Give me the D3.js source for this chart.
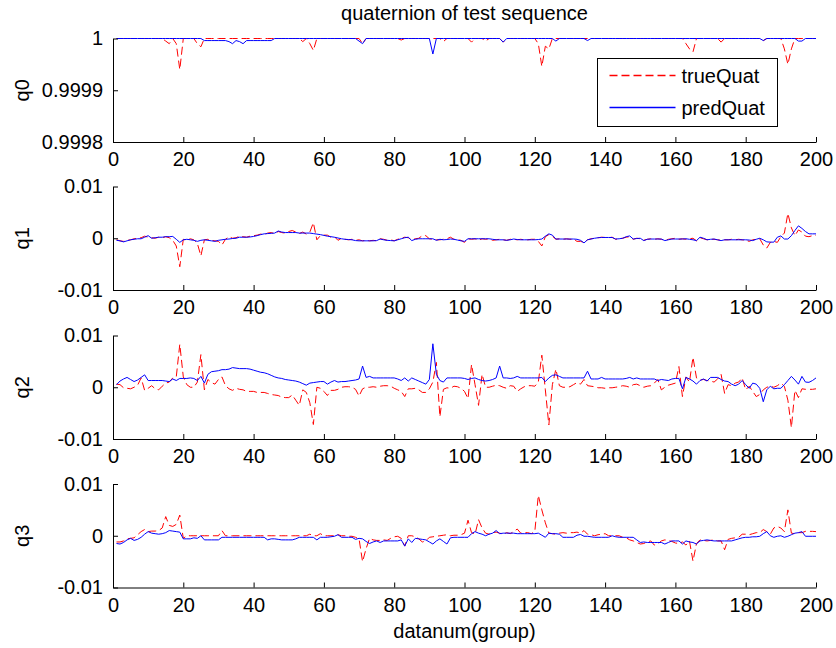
<!DOCTYPE html>
<html>
<head>
<meta charset="utf-8">
<script src="https://cdn.jsdelivr.net/npm/d3@7"></script>
<style>
  body { margin: 0; background: #ffffff; }
  svg { display: block; }
  text { font-family: "Liberation Sans", Arial, Helvetica, sans-serif; fill: #000; }
</style>
</head>
<body>
<svg id="chart" width="836" height="648"></svg>
<script>
// ---------------- DATA ----------------
const datanum = d3.range(1, 201);            // sample index 1..200
const xTickValues = [0, 20, 40, 60, 80, 100, 120, 140, 160, 180, 200];
const q0TickValues = [0.9998, 0.9999, 1];
const q0TickLabels = ["0.9998", "0.9999", "1"];
const qTickValues = [-0.01, 0, 0.01];
const qTickLabels = ["-0.01", "0", "0.01"];
const panelLabels = ["q0", "q1", "q2", "q3"];
const seriesNames = ["trueQuat", "predQuat"];

const q0True = [
 1,1,1,1,1,1,1,1,1,1,
 1,1,1,1,0.999995,0.99999,1,0.99999,0.99994,1,
 1,1,1,0.99999,0.999984,1,1,1,1,1,
 1,1,1,1,1,1,1,1,1,1,
 1,1,1,1,1,1,1,1,1,1,
 1,1,1,0.999994,1,0.99999,0.999977,1,1,1,
 1,1,1,1,1,1,1,1,1,1,
 0.99999,1,1,1,1,1,1,1,1,1,
 1,0.999997,1,1,1,1,1,1,1,1,
 1,1,1,0.999994,1,1,1,1,1,1,
 1,0.999993,1,1,1,0.999995,1,1,1,1,
 0.999993,1,1,1,1,1,1,1,1,1,
 0.99999,0.999946,0.999985,0.99998,1,1,1,1,1,1,
 1,1,1,1,1,1,1,1,1,1,
 1,1,1,1,1,1,1,1,1,1,
 1,1,1,1,1,1,1,1,1,1,
 1,1,0.99999,0.99998,0.999974,1,1,1,1,1,
 1,1,0.999993,1,1,1,1,1,1,1,
 1,1,1,1,0.999996,1,1,1,1,1,
 0.99998,0.99995,0.99998,1,1,1,1,1,1,1
];
const q0Pred = [
 1,1,1,1,1,1,1,1,1,1,
 1,1,1,1,1,1,1,1,1,1,
 1,1,1,1,1,0.999996,0.999996,0.999996,0.999996,0.999996,
 0.999996,0.999996,0.999994,0.99999,0.999996,0.999994,0.99999,0.999996,0.999996,0.999996,
 0.999996,0.999996,0.999996,0.999996,0.999996,1,1,1,1,1,
 1,1,1,1,1,1,1,1,1,1,
 1,1,1,1,1,1,1,1,1,0.999995,
 0.99999,1,1,1,1,1,1,1,1,1,
 1,1,1,1,1,1,1,1,1,1,
 0.99997,1,1,1,1,1,1,1,1,1,
 1,1,1,1,1,1,1,1,1,1,
 0.999993,1,1,1,1,1,1,1,1,1,
 1,1,1,1,1,0.999995,1,1,1,1,
 1,1,1,1,0.999996,1,1,1,1,1,
 1,1,1,1,1,1,1,1,1,1,
 1,1,1,1,1,1,1,1,1,1,
 1,1,1,1,1,1,1,1,1,1,
 1,1,1,1,1,1,1,1,1,1,
 1,1,1,1,0.999996,1,1,1,1,1,
 1,1,1,1,0.999995,0.999995,1,1,1,1
];

const q1True = [
 -0.0003,-0.0005,-0.0006,-0.0004,-0.0003,-0.0001,0.0000,0.0001,0.0004,0.0002,
 0.0001,0.0000,0.0002,0.0001,0.0003,0.0001,-0.0004,-0.0015,-0.0055,-0.0002,
 -0.0004,-0.0001,-0.0003,-0.0010,-0.0034,-0.0003,-0.0002,-0.0004,-0.0005,-0.0006,
 -0.0013,-0.0002,0.0003,0.0000,0.0001,0.0004,0.0003,0.0002,0.0004,0.0005,
 0.0006,0.0008,0.0007,0.0010,0.0011,0.0009,0.0013,0.0011,0.0010,0.0013,
 0.0015,0.0012,0.0009,0.0012,0.0008,0.0012,0.0030,-0.0003,0.0005,0.0006,
 0.0006,0.0002,0.0003,-0.0004,0.0000,-0.0002,-0.0003,-0.0002,-0.0004,-0.0003,
 -0.0005,-0.0004,-0.0005,-0.0004,-0.0005,-0.0001,-0.0002,-0.0004,-0.0003,-0.0005,
 -0.0002,0.0000,0.0002,0.0001,-0.0003,-0.0001,0.0000,0.0005,0.0005,-0.0001,
 -0.0002,-0.0003,-0.0003,-0.0002,-0.0001,0.0002,-0.0002,-0.0003,-0.0004,-0.0008,
 -0.0001,-0.0002,-0.0001,-0.0004,-0.0001,-0.0002,-0.0001,-0.0004,-0.0003,-0.0002,
 -0.0003,-0.0004,-0.0002,-0.0002,-0.0003,-0.0002,-0.0003,-0.0003,-0.0002,-0.0002,
 -0.0006,-0.0015,0.0003,0.0007,0.0004,-0.0002,-0.0001,-0.0002,-0.0001,-0.0002,
 -0.0002,-0.0006,-0.0006,-0.0008,-0.0003,-0.0001,0.0000,0.0001,0.0002,0.00015,
 0.0001,0.0002,-0.0002,-0.0001,0.0000,0.0002,0.0003,-0.0002,0.0000,-0.0001,
 -0.0004,-0.0002,-0.0001,-0.0002,-0.0001,-0.0002,-0.0004,-0.0002,-0.0001,0.0000,
 -0.0002,-0.0001,-0.0002,-0.0001,0.0000,-0.0005,0.0001,-0.0001,-0.0003,-0.0002,
 -0.0002,-0.0003,-0.0004,-0.0003,-0.0003,-0.0002,-0.0003,-0.0002,-0.0003,-0.0004,
 -0.0006,-0.0003,-0.0002,-0.0001,-0.0013,-0.0019,-0.0008,-0.0006,-0.0008,0.0003,
 0.0010,0.0048,0.0020,0.0005,0.0016,0.0012,0.0004,0.0003,0.0005,0.0006
];
const q1Pred = [
 -0.0004,-0.0005,-0.0007,-0.0005,-0.0003,-0.0002,-0.0001,-0.0001,0.0002,0.0005,
 0.0000,0.0001,0.0002,0.0002,0.0003,0.0003,0.00035,-0.0002,-0.0008,-0.0003,
 -0.0002,-0.0003,-0.0004,-0.0006,-0.0004,-0.0003,-0.0004,-0.0005,-0.0006,-0.0004,
 -0.0003,-0.0002,-0.00015,-0.00005,0.0000,0.0002,0.0002,0.0002,0.00025,0.00035,
 0.0005,0.0007,0.00085,0.0009,0.00095,0.0010,0.0014,0.0012,0.0011,0.0011,
 0.0011,0.0011,0.0010,0.0010,0.0010,0.0010,0.0009,0.0008,0.0007,0.00055,
 0.0004,0.0003,0.0002,0.00005,-0.0001,-0.0002,-0.00025,-0.0003,-0.00045,-0.0005,
 -0.0005,-0.0005,-0.0005,-0.0005,-0.00045,-0.00015,-0.0003,-0.0004,-0.00045,-0.0005,
 -0.0003,-0.0001,0.0001,0.0002,-0.00045,-0.0002,-0.0001,-0.0001,-0.0001,-0.0001,
 -0.0001,-0.0004,-0.0002,-0.0003,-0.00025,-0.00015,-0.0002,-0.00035,-0.0005,-0.0006,
 -0.0001,-0.0001,-0.0001,-0.0001,-0.0001,-0.0001,-0.0001,-0.0002,-0.0003,-0.0003,
 -0.0003,-0.0004,-0.0003,-0.00015,-0.00025,-0.0003,-0.0003,-0.0003,-0.0003,-0.0003,
 -0.00025,-0.00015,0.0004,0.00085,0.0006,-0.00015,-0.00015,-0.00015,-0.00015,-0.00015,
 -0.00015,-0.0002,-0.0004,-0.0009,-0.0003,-0.00015,0.0000,0.0001,0.00015,0.00015,
 0.00015,0.00015,-0.00015,-0.0001,0.0000,0.0003,0.00045,-0.00015,-0.00005,0.0000,
 -0.00045,-0.0002,-0.00015,-0.00015,-0.00015,-0.00015,-0.00045,-0.0003,-0.00015,-0.00015,
 -0.00015,-0.00015,-0.0001,-0.0002,-0.0003,-0.00045,0.0002,0.0000,-0.0003,-0.0002,
 -0.00015,-0.0003,-0.00045,-0.0003,-0.0003,-0.0003,-0.0003,-0.0003,-0.0003,-0.0003,
 -0.00035,-0.00045,-0.0002,0.0000,-0.0003,-0.0007,-0.00075,-0.00075,0.0002,0.00045,
 -0.00015,-0.00015,0.0005,0.0015,0.0024,0.0019,0.0013,0.00085,0.00085,0.00085
];

const q2True = [
 0.0006,0.0005,-0.0001,-0.0002,-0.0003,0.0000,0.0004,0.0018,-0.0006,-0.0002,
 0.0003,-0.0003,-0.0005,0.0002,0.0008,0.0010,0.0018,0.0020,0.0083,0.0020,
 0.0005,0.0000,0.0000,0.0010,0.0063,-0.0005,0.0015,0.0009,0.0006,0.0015,
 0.0020,0.0003,-0.0003,-0.0006,-0.0002,-0.0004,-0.0005,-0.0008,-0.0008,-0.0008,
 -0.0010,-0.0010,-0.0010,-0.0012,-0.0014,-0.0015,-0.0016,-0.0019,-0.0020,-0.0020,
 -0.0015,-0.0025,-0.0035,-0.0005,-0.0010,-0.0030,-0.0072,0.0000,-0.0002,-0.0008,
 -0.0016,-0.0006,-0.0006,-0.0004,0.0000,0.0001,0.0001,0.0000,-0.0004,-0.0017,
 -0.0003,0.0000,0.0000,0.0001,0.0000,0.0002,0.0003,0.0003,0.0002,-0.0002,
 -0.0005,-0.0008,-0.0018,-0.0003,-0.0003,-0.0002,-0.0005,-0.0010,-0.0010,-0.0003,
 0.0010,0.0048,-0.0057,-0.0004,-0.0001,-0.0002,0.0002,0.0001,-0.0002,-0.0008,
 -0.0022,0.0044,0.0005,-0.0035,0.0025,0.0000,0.0000,0.0002,0.0004,0.0003,
 0.0000,-0.0002,0.0003,0.0002,-0.0008,-0.0003,0.0001,0.0003,0.0003,0.0002,
 0.0010,0.0062,-0.0005,-0.0073,0.0005,0.0035,0.0003,0.0000,0.0000,0.0001,
 0.0005,0.0009,0.0006,0.0015,0.0003,0.0002,0.0001,-0.0001,-0.0001,-0.0002,
 -0.0001,-0.0001,0.0000,0.0001,0.0003,0.0002,0.0000,0.0005,0.0006,0.0003,
 0.0000,0.0002,0.0003,0.0008,0.0015,-0.0005,0.0000,0.0004,0.0006,0.0008,
 0.0040,-0.0018,0.0020,0.0010,0.0058,0.0018,0.0014,0.0015,0.0013,0.0012,
 0.0010,0.0016,0.0025,-0.0012,0.0005,0.0003,0.0008,0.0010,0.0018,-0.0005,
 0.0002,-0.0008,-0.0018,-0.0014,-0.0005,0.0000,0.0002,0.0000,0.0003,0.0008,
 0.0002,-0.0025,-0.0078,-0.0006,-0.0020,-0.0003,-0.0004,-0.0004,-0.0004,-0.0003
];
const q2Pred = [
 0.0005,0.0012,0.0016,0.0019,0.0015,0.0011,0.0014,0.0019,0.0024,0.0013,
 0.0013,0.0013,0.0013,0.0013,0.0012,0.0011,0.0016,0.0013,0.0017,0.0017,
 0.0017,0.0018,0.0017,0.0013,0.0021,0.0008,0.0025,0.0030,0.0031,0.0032,
 0.0034,0.0034,0.0035,0.0038,0.0037,0.0036,0.0036,0.0036,0.0035,0.0033,
 0.0031,0.0029,0.0028,0.0026,0.0023,0.0020,0.0018,0.0017,0.0015,0.0014,
 0.0013,0.0012,0.0010,0.0007,0.0004,0.0008,0.0009,0.0010,0.0011,0.0011,
 0.0006,0.0010,0.0013,0.0010,0.0011,0.0011,0.0012,0.0013,0.0014,0.0016,
 0.0041,0.0019,0.0021,0.0018,0.0018,0.0018,0.0018,0.0018,0.0018,0.0018,
 0.0016,0.0013,0.0018,0.0012,0.0018,0.0015,0.0012,0.0009,0.0006,0.0015,
 0.0084,0.0025,0.0013,0.0010,0.0018,0.0018,0.0018,0.0018,0.0018,0.0017,
 0.0015,0.0017,0.0018,0.0015,0.0013,0.0012,0.0013,0.0015,0.0018,0.0041,
 0.0018,0.0018,0.0017,0.0018,0.0021,0.0018,0.0018,0.0018,0.0018,0.0018,
 0.0018,0.0019,0.0011,0.0018,0.0023,0.0024,0.0021,0.0018,0.0018,0.0018,
 0.0018,0.0018,0.0018,0.0018,0.0031,0.0016,0.0016,0.0016,0.0019,0.0016,
 0.0016,0.0016,0.0016,0.0016,0.0016,0.0017,0.0019,0.0016,0.0018,0.0016,
 0.0016,0.0016,0.0016,0.0016,0.0013,0.0015,0.0014,0.0013,0.0016,0.0017,
 0.0017,-0.0003,0.0019,0.0016,0.0012,0.0006,0.0013,0.0016,0.0012,0.0019,
 0.0019,0.0019,0.0015,0.0012,0.0011,0.0006,0.0003,0.0006,0.0013,0.0005,
 -0.0002,0.0008,0.0006,-0.0002,-0.0028,-0.0005,0.0002,-0.0003,-0.0002,-0.0002,
 0.0005,0.0013,0.0021,0.0014,0.0006,0.0021,0.0010,0.00095,0.0013,0.0018
];

const q3True = [
 -0.0012,-0.0012,-0.0010,-0.0006,-0.0005,-0.0004,0.0002,0.0008,0.0012,0.0008,
 0.0009,0.0009,0.0010,0.0015,0.0037,0.0020,0.0018,0.0022,0.0040,-0.0005,
 0.0000,0.0000,0.0000,0.0000,0.0000,0.0000,0.0000,0.0000,0.0000,0.0000,
 0.0010,0.0000,0.0000,0.0000,0.0000,0.0000,0.0000,0.0000,0.0000,0.0000,
 0.0000,0.0000,0.0000,0.0000,0.0000,0.0000,0.0000,0.0000,0.0000,0.0000,
 0.0000,0.0000,0.0000,0.0000,0.0000,0.0003,0.0000,0.0000,0.0004,0.0000,
 0.0000,0.0000,0.0000,0.0002,0.0000,0.0000,-0.0001,-0.0001,-0.0003,-0.0006,
 -0.0050,-0.0025,-0.0005,-0.0008,-0.0009,-0.0009,-0.0008,-0.0009,-0.0005,-0.0002,
 -0.0001,-0.0005,-0.0020,0.0000,0.0000,-0.0002,-0.0006,-0.0012,-0.0010,-0.0003,
 -0.0002,-0.0001,0.0000,0.0001,0.0002,0.0000,0.0001,0.0001,0.0002,0.0005,
 0.0030,0.0006,0.0003,0.0031,0.0015,0.0005,0.0003,0.0006,0.0007,0.0005,
 0.0003,0.0006,0.0004,0.0008,0.0013,0.0005,0.0006,0.0006,0.0004,0.0008,
 0.0078,0.0050,0.0025,0.0005,0.0004,0.0003,0.0005,0.0006,0.0005,0.0006,
 0.0006,0.0007,0.0005,0.0010,0.0003,0.0002,0.0000,0.0002,0.0003,0.0004,
 0.0000,0.0000,0.0000,0.0000,-0.0003,-0.0004,-0.0008,-0.0010,-0.0013,-0.0016,
 -0.0015,-0.0012,-0.0010,-0.0018,-0.0016,-0.0010,-0.0008,-0.0009,-0.0011,-0.0014,
 -0.0015,-0.0012,-0.0018,-0.0010,-0.0049,-0.0015,-0.0008,-0.0009,-0.0010,-0.0009,
 -0.0008,-0.0010,-0.0010,-0.0027,-0.0007,-0.0005,-0.0004,-0.0003,0.0003,0.0003,
 0.0002,0.0004,0.0006,0.0006,0.0012,0.0008,0.0003,0.0015,0.0018,0.0015,
 0.0008,0.0050,0.0005,0.0004,0.0006,0.0006,0.00085,0.00085,0.00085,0.0008
];
const q3Pred = [
 -0.0015,-0.0016,-0.0013,-0.0008,-0.0005,-0.0009,-0.0007,-0.0003,0.0003,0.0008,
 0.0005,0.0004,0.0003,0.0004,0.0006,0.0010,0.0009,0.0008,0.0007,-0.0006,
 -0.0006,-0.0006,-0.0004,-0.0005,0.0000,-0.0008,-0.0008,-0.0008,-0.0008,-0.0008,
 -0.0003,-0.0003,-0.0003,-0.0003,-0.0003,-0.0003,-0.0003,-0.0003,-0.0003,-0.0003,
 -0.0003,-0.0003,-0.0003,-0.0008,-0.0006,-0.0006,-0.0007,-0.0008,-0.0008,-0.0008,
 -0.0008,-0.0006,-0.0003,-0.0003,-0.0003,-0.0003,-0.0003,-0.0008,-0.0003,-0.0003,
 -0.0003,-0.0002,-0.0001,0.0002,-0.0003,-0.0003,-0.0003,-0.0003,-0.0007,-0.0005,
 -0.0006,-0.0011,-0.0015,-0.0012,-0.0010,-0.0013,-0.0010,-0.0010,-0.0010,-0.0010,
 -0.0010,-0.0008,-0.0020,-0.0006,-0.0013,-0.0005,-0.0006,-0.0007,-0.0008,-0.0012,
 -0.0016,-0.0010,-0.0006,-0.0011,-0.0016,-0.0004,-0.0003,-0.0003,-0.0003,-0.0003,
 -0.0003,0.0004,0.0008,0.0005,0.0003,0.0000,0.0003,0.0005,0.0010,0.0004,
 0.0005,0.0005,0.0005,0.0005,0.0004,0.0004,0.0004,0.0004,0.0004,0.0004,
 0.0005,0.0001,-0.0003,0.0005,0.0004,0.0004,0.0003,-0.0003,-0.0003,-0.0003,
 -0.0003,0.0001,0.00025,-0.0001,-0.0001,-0.0002,-0.0003,-0.0003,-0.0003,-0.0003,
 -0.0003,0.0000,-0.0002,-0.0003,-0.0003,-0.0003,-0.0003,-0.0003,-0.0008,-0.0013,
 -0.0012,-0.0013,-0.0013,-0.0013,-0.0013,-0.0013,-0.0016,-0.0013,-0.0010,-0.0010,
 -0.0010,-0.0016,-0.0010,-0.0012,-0.0013,-0.0016,-0.0010,-0.0009,-0.0008,-0.0009,
 -0.0010,-0.0010,-0.0010,-0.0010,-0.0010,-0.0010,-0.0008,-0.0006,-0.0004,-0.0003,
 -0.0003,-0.0002,-0.0002,-0.0001,0.0004,0.0008,0.0000,-0.0003,-0.0001,0.0000,
 -0.0003,-0.0001,0.0002,0.0005,0.0006,0.0008,-0.0001,-0.0001,-0.0001,-0.0001
];

// ---------------- LAYOUT ----------------
const W = 836, H = 648;
const plotLeft = 113, plotRight = 816;
const panelTops = [38.5, 186.5, 335.5, 484];
const panelHeight = 103.5;
const fontSize = 20;
const trueColor = "rgb(255,0,0)", predColor = "rgb(0,0,255)";

const svg = d3.select("#chart");
svg.append("rect").attr("width", W).attr("height", H).attr("fill", "#fff");

const x = d3.scaleLinear().domain([0, 200]).range([plotLeft, plotRight]);

const panelData = [
  { truth: q0True, pred: q0Pred, domain: [0.9998, 1], ticks: q0TickValues, labels: q0TickLabels },
  { truth: q1True, pred: q1Pred, domain: [-0.01, 0.01], ticks: qTickValues, labels: qTickLabels },
  { truth: q2True, pred: q2Pred, domain: [-0.01, 0.01], ticks: qTickValues, labels: qTickLabels },
  { truth: q3True, pred: q3Pred, domain: [-0.01, 0.01], ticks: qTickValues, labels: qTickLabels }
];

const defs = svg.append("defs");

panelData.forEach((p, i) => {
  const top = panelTops[i], bottom = top + panelHeight;
  const y = d3.scaleLinear().domain(p.domain).range([bottom, top]);
  const g = svg.append("g");

  defs.append("clipPath").attr("id", "clip" + i)
    .append("rect").attr("x", plotLeft).attr("y", top - 1)
    .attr("width", plotRight - plotLeft).attr("height", panelHeight + 2);

  const line = d3.line().x((d, k) => x(datanum[k])).y(d => y(d));
  const lines = g.append("g").attr("clip-path", `url(#clip${i})`);
  lines.append("path").datum(p.truth)
    .attr("d", line).style("fill", "none")
    .style("stroke", trueColor).style("stroke-width", 1)
    .style("stroke-dasharray", "8,4");
  lines.append("path").datum(p.pred)
    .attr("d", line).style("fill", "none")
    .style("stroke", predColor).style("stroke-width", 1);

  // x axis (ticks inward)
  const xa = g.append("g").attr("transform", `translate(0,${bottom})`)
    .call(d3.axisBottom(x).tickValues(xTickValues).tickFormat(d3.format("d"))
      .tickSizeInner(-5).tickSizeOuter(0).tickPadding(10));
  // y axis (ticks inward)
  const ya = g.append("g").attr("transform", `translate(${plotLeft},0)`)
    .call(d3.axisLeft(y).tickValues(p.ticks).tickFormat((d, k) => p.labels[k])
      .tickSizeInner(-5).tickSizeOuter(0).tickPadding(10));
  [xa, ya].forEach(a => {
    a.select(".domain").attr("stroke", "#000").attr("stroke-width", 1);
    a.selectAll(".tick line").attr("stroke", "#000");
    a.selectAll("text").attr("font-size", fontSize)
      .attr("font-family", '"Liberation Sans", Arial, sans-serif').attr("fill", "#000");
  });

  // y label
  svg.append("text")
    .attr("transform", `translate(29,${(top + bottom) / 2}) rotate(-90)`)
    .attr("text-anchor", "middle").attr("font-size", fontSize)
    .text(panelLabels[i]);
});

// title
svg.append("text").attr("x", (plotLeft + plotRight) / 2).attr("y", 20)
  .attr("text-anchor", "middle").attr("font-size", fontSize)
  .text("quaternion of test sequence");

// x label
svg.append("text").attr("x", (plotLeft + plotRight) / 2).attr("y", 638)
  .attr("text-anchor", "middle").attr("font-size", fontSize)
  .text("datanum(group)");

// legend (absolute coordinates, sample segments drawn with the same line generator)
const legendX = 597.5, legendY = 58.5, legendW = 180, legendH = 68;
svg.append("rect").attr("x", legendX).attr("y", legendY)
  .attr("width", legendW).attr("height", legendH)
  .style("fill", "#fff").style("stroke", "#000").style("stroke-width", 1);
const legendColors = [trueColor, predColor];
const legendDashes = ["8,4", null];
const seg = d3.line();
seriesNames.forEach((name, k) => {
  const yy = legendY + 17 + k * 32;
  const pth = svg.append("path")
    .attr("d", seg([[legendX + 12, yy], [legendX + 78, yy]]))
    .attr("fill", "none")
    .attr("stroke", legendColors[k])
    .attr("stroke-width", 1.3);
  if (legendDashes[k]) pth.attr("stroke-dasharray", legendDashes[k]);
  svg.append("text").attr("x", legendX + 84).attr("y", yy + 7)
    .attr("font-size", fontSize).text(name);
});
</script>
</body>
</html>
